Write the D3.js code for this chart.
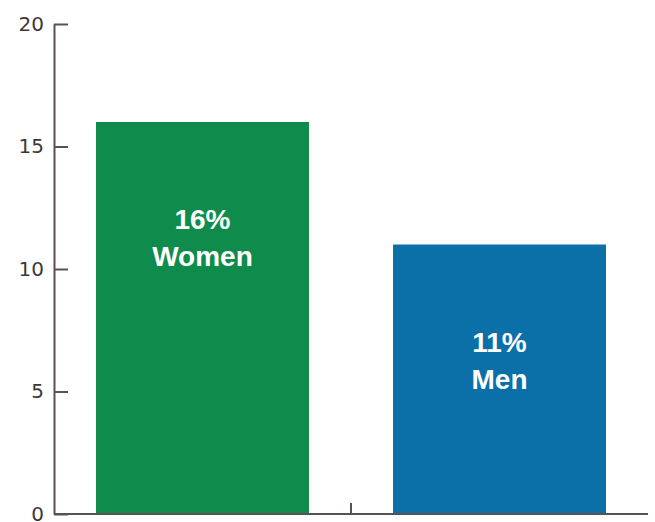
<!DOCTYPE html>
<html>
<head>
<meta charset="utf-8">
<script src="https://cdn.jsdelivr.net/npm/d3@7"></script>
<style>
  html, body { margin: 0; padding: 0; background: #ffffff; }
  svg { display: block; }
</style>
</head>
<body>
<div id="chart"></div>
<script>
const categories = ["Women", "Men"];
const values = [16, 11];
const valueLabels = ["16%", "11%"];
const barColors = ["#0f8b4b", "#0a70a7"];
const yTicks = [0, 5, 10, 15, 20];

const W = 655, H = 522;
const mLeft = 54, mRight = 648, mTop = 24, mBottom = 514;

const svg = d3.select("#chart").append("svg")
  .attr("width", W).attr("height", H);

const y = d3.scaleLinear().domain([0, 20]).range([mBottom, mTop]);
const x = d3.scaleBand().domain(categories).range([mLeft, mRight])
  .paddingInner(0.283).paddingOuter(0.1414);

// bars
svg.selectAll("rect.bar").data(categories).enter().append("rect")
  .attr("class", "bar")
  .attr("x", d => x(d))
  .attr("y", (d, i) => y(values[i]))
  .attr("width", x.bandwidth())
  .attr("height", (d, i) => y(0) - y(values[i]))
  .attr("fill", (d, i) => barColors[i]);

// bar labels
const lbl = svg.selectAll("g.lbl").data(categories).enter().append("g")
  .attr("class", "lbl")
  .attr("transform", (d, i) => `translate(${x(d) + x.bandwidth() / 2},${y(values[i]) + 107})`);
lbl.append("text")
  .attr("text-anchor", "middle")
  .attr("font-family", "Liberation Sans, Arial, sans-serif")
  .attr("font-weight", "bold")
  .attr("font-size", 28)
  .attr("fill", "#ffffff")
  .text((d, i) => valueLabels[i]);
lbl.append("text")
  .attr("y", 37)
  .attr("text-anchor", "middle")
  .attr("font-family", "Liberation Sans, Arial, sans-serif")
  .attr("font-weight", "bold")
  .attr("font-size", 28)
  .attr("fill", "#ffffff")
  .text(d => d);

// y axis
const yAxis = d3.axisLeft(y).tickValues(yTicks).tickSizeInner(-14).tickSizeOuter(0).tickPadding(10);
const gy = svg.append("g").attr("transform", `translate(${mLeft},0)`).call(yAxis);
gy.select(".domain").attr("stroke", "#5a5252").attr("stroke-width", 2);
gy.selectAll(".tick line").attr("stroke", "#5a5252").attr("stroke-width", 2);
gy.selectAll(".tick text")
  .attr("font-family", "DejaVu Sans, sans-serif")
  .attr("font-size", 20)
  .attr("fill", "#3d3838");

// baseline
svg.append("line")
  .attr("x1", mLeft).attr("x2", mRight)
  .attr("y1", y(0)).attr("y2", y(0))
  .attr("stroke", "#5a5252").attr("stroke-width", 2);

// category divider tick
const mid = (x.range()[0] + x.range()[1]) / 2;
svg.append("line")
  .attr("x1", mid).attr("x2", mid)
  .attr("y1", y(0)).attr("y2", y(0) - 11)
  .attr("stroke", "#5a5252").attr("stroke-width", 2);
</script>
</body>
</html>
